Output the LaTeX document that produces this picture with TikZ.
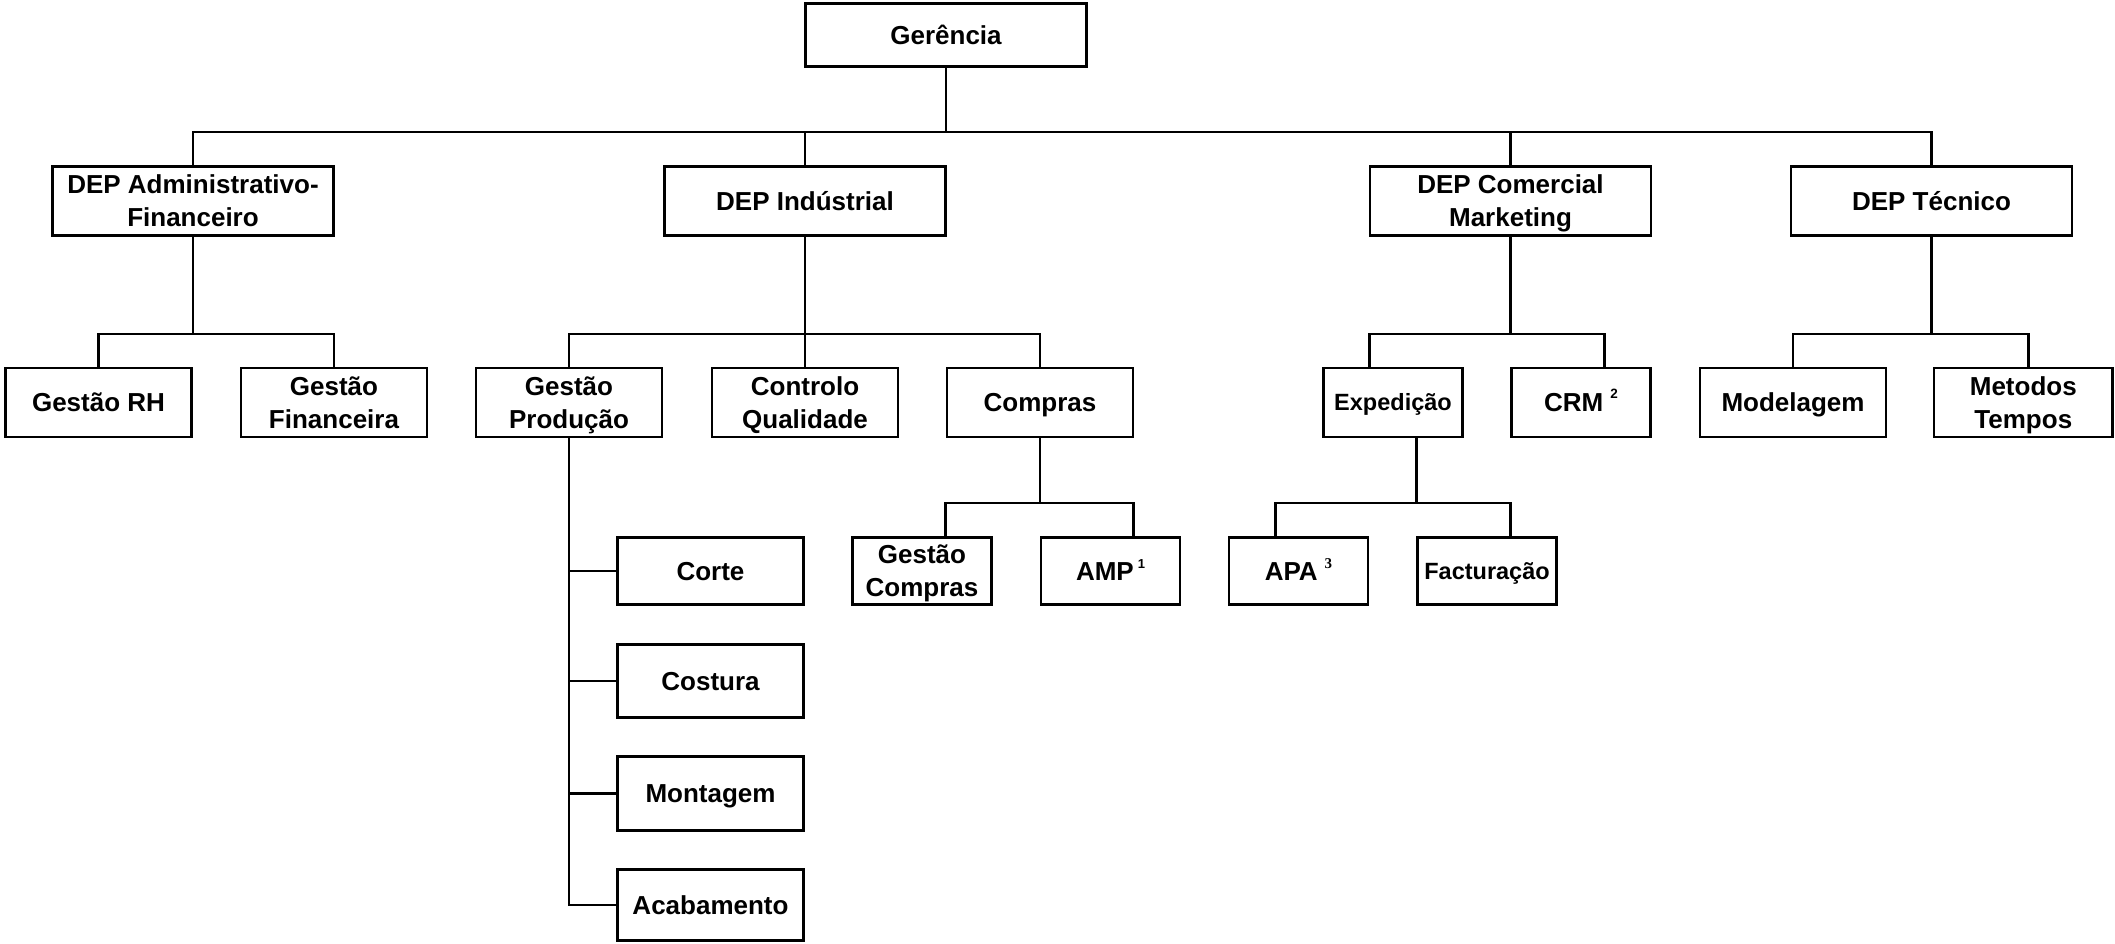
\documentclass[tikz,border=0pt]{standalone}
\usepackage{fontspec}
\setmainfont{Liberation Sans}
\newfontfamily\serifdigits{Liberation Serif}
\usetikzlibrary{calc}
% two centred lines whose baseline is the last line
\newcommand\twoline[2]{\begin{tabular}[b]{@{}c@{}}#1\\#2\end{tabular}}
\tikzset{
  org/.style={draw, line width=2.8pt, inner sep=0pt, outer sep=0pt,
    minimum height=69pt, text height=18.6pt, text depth=0pt,
    font=\bfseries\fontsize{26}{33}\selectfont},
  two/.style={text height=51.6pt},
  smalltext/.style={font=\bfseries\fontsize{23.5}{28}\selectfont, text height=16.8pt},
  wide/.style={minimum width=281pt},
  mid/.style={minimum width=186pt},
  narrow/.style={minimum width=139pt},
  low/.style={minimum height=67pt},
  link/.style={line width=2.8pt},
}
\begin{document}
\begin{tikzpicture}[x=1pt, y=-1pt]
\fill[white] (0,0) rectangle (2115,944);
\useasboundingbox (0,0) rectangle (2115,944);

% top
\node[org, wide, minimum height=63pt] (ger) at (946,35) {Gerência};

% departments
\node[org, wide, two] (adm) at (193,201) {\twoline{DEP Administrativo-}{Financeiro}};
\node[org, wide] (ind) at (805,201) {DEP Indústrial};
\node[org, wide, two] (com) at (1510.5,201) {\twoline{DEP Comercial}{Marketing}};
\node[org, wide] (tec) at (1931.5,201) {DEP Técnico};

% second level
\node[org, mid] (rh) at (98.5,402.5) {Gestão RH};
\node[org, mid, two] (gf) at (334,402.5) {\twoline{Gestão}{Financeira}};
\node[org, mid, two] (gp) at (569,402.5) {\twoline{Gestão}{Produção}};
\node[org, mid, two] (cq) at (805,402.5) {\twoline{Controlo}{Qualidade}};
\node[org, mid] (cmp) at (1040,402.5) {Compras};
\node[org, narrow, smalltext] (exp) at (1393,402.5) {Expedição};
\node[org, narrow] (crm) at (1581,402.5) {CRM \raisebox{13pt}{\fontsize{13.5}{14}\selectfont 2}};
\node[org, mid] (mod) at (1793,402.5) {Modelagem};
\node[org, minimum width=178.6pt, two] (mt) at (2023.3,402.5) {\twoline{Metodos}{Tempos}};

% third level
\node[org, mid, low] (corte) at (710.5,571) {Corte};
\node[org, narrow, low, two] (gc) at (922,571) {\twoline{Gestão}{Compras}};
\node[org, narrow, low] (amp) at (1110.5,571) {AMP\hspace{4pt}\raisebox{11.5pt}{\fontsize{13}{13}\selectfont 1}};
\node[org, narrow, low] (apa) at (1298.5,571) {APA\hspace{7pt}\raisebox{12pt}{\fontsize{15}{15}\selectfont\serifdigits\bfseries 3}};
\node[org, narrow, low, smalltext] (fac) at (1487,571) {Facturação};

% production sections
\node[org, mid, minimum height=73pt] (costura) at (710.5,681) {Costura};
\node[org, mid, minimum height=74pt] (montagem) at (710.5,793.5) {Montagem};
\node[org, mid, minimum height=71pt] (acab) at (710.5,905) {Acabamento};

% bus levels
\coordinate (busA) at (0,132);
\coordinate (busB) at (0,334);
\coordinate (busC) at (0,503);

% attachment points on the narrow boxes
\coordinate (expT) at ($(exp.north west)!1/3!(exp.north east)$);
\coordinate (crmT) at ($(crm.north west)!2/3!(crm.north east)$);
\coordinate (expB) at ($(exp.south west)!2/3!(exp.south east)$);
\coordinate (gcT) at ($(gc.north west)!2/3!(gc.north east)$);
\coordinate (ampT) at ($(amp.north west)!2/3!(amp.north east)$);
\coordinate (apaT) at ($(apa.north west)!1/3!(apa.north east)$);
\coordinate (facT) at ($(fac.north west)!2/3!(fac.north east)$);
\coordinate (mtT) at ($(mt.north west)!0.53!(mt.north east)$);

% management to departments
\draw[link] (ger.south) -- (ger.south |- busA);
\draw[link] (adm.north) |- (busA -| tec.north) -- (tec.north);
\draw[link] (ind.north) -- (ind.north |- busA);
\draw[link] (com.north) -- (com.north |- busA);

% departments to second level
\draw[link] (adm.south) -- (adm.south |- busB);
\draw[link] (rh.north) |- (busB -| gf.north) -- (gf.north);
\draw[link] (ind.south) -- (ind.south |- busB);
\draw[link] (gp.north) |- (busB -| cmp.north) -- (cmp.north);
\draw[link] (cq.north) -- (cq.north |- busB);
\draw[link] (com.south) -- (com.south |- busB);
\draw[link] (expT) |- (busB -| crmT) -- (crmT);
\draw[link] (tec.south) -- (tec.south |- busB);
\draw[link] (mod.north) |- (busB -| mtT) -- (mtT);

% third level
\draw[link] (cmp.south) -- (cmp.south |- busC);
\draw[link] (gcT) |- (busC -| ampT) -- (ampT);
\draw[link] (expB) -- (expB |- busC);
\draw[link] (apaT) |- (busC -| facT) -- (facT);

% production column
\draw[link] (gp.south) |- (acab.west);
\draw[link] (corte.west) -- (corte.west -| gp.south);
\draw[link] (costura.west) -- (costura.west -| gp.south);
\draw[link] (montagem.west) -- (montagem.west -| gp.south);
\end{tikzpicture}
\end{document}
